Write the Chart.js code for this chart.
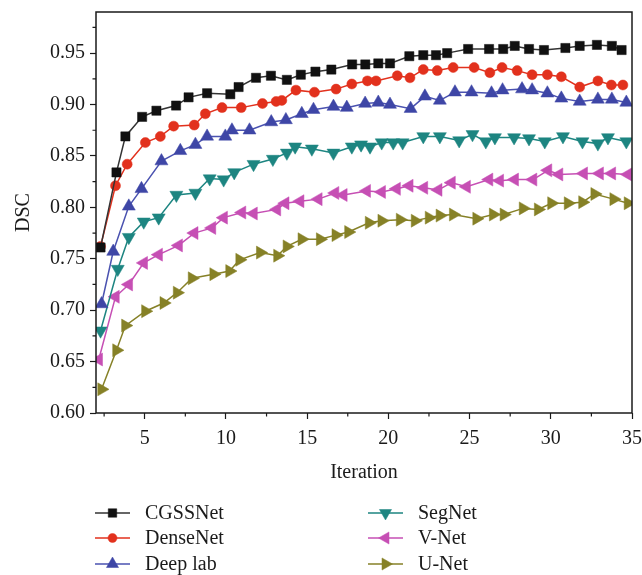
<!DOCTYPE html>
<html>
<head>
<meta charset="utf-8">
<script src="https://cdn.jsdelivr.net/npm/chart.js@4.4.1/dist/chart.umd.min.js"></script>
<style>
  html, body { margin: 0; padding: 0; background: #fff; }
  #chart { display: block; }
</style>
</head>
<body>
<canvas id="chart" width="642" height="575"></canvas>
<script>
// series data (x = iteration, y = DSC)
const seriesNames = ["CGSSNet", "DenseNet", "Deep lab", "SegNet", "V-Net", "U-Net"];

const cgssX = [2.28,3.26,3.81,4.84,5.72,6.93,7.70,8.84,10.27,10.78,11.85,12.77,13.75,14.61,15.51,16.49,17.77,18.58,19.38,20.10,21.29,22.15,22.93,23.62,24.91,26.20,27.07,27.78,28.66,29.58,30.90,31.78,32.84,33.76,34.36];
const cgssY = [0.761,0.834,0.869,0.888,0.894,0.899,0.907,0.911,0.910,0.917,0.926,0.928,0.924,0.929,0.932,0.934,0.939,0.939,0.940,0.940,0.947,0.948,0.948,0.950,0.954,0.954,0.954,0.957,0.954,0.953,0.955,0.957,0.958,0.957,0.953];

const denseX = [2.28,3.20,3.92,5.04,5.96,6.78,8.05,8.73,9.76,10.94,12.25,13.09,13.44,14.31,15.45,16.78,17.75,18.71,19.24,20.55,21.33,22.15,23.01,23.99,25.28,26.25,27.00,27.93,28.85,29.79,30.65,31.78,32.90,33.73,34.44];
const denseY = [0.762,0.821,0.842,0.863,0.869,0.879,0.880,0.891,0.897,0.897,0.901,0.903,0.904,0.914,0.912,0.915,0.920,0.923,0.923,0.928,0.926,0.934,0.933,0.936,0.936,0.931,0.936,0.933,0.929,0.929,0.927,0.917,0.923,0.919,0.919];

const deepX = [2.34,3.06,4.02,4.80,6.03,7.19,8.12,8.84,9.96,10.37,11.45,12.79,13.69,14.67,15.39,16.62,17.44,18.57,19.38,20.10,21.37,22.25,23.17,24.10,25.12,26.35,27.03,28.23,28.85,29.79,30.65,31.78,32.90,33.76,34.65];
const deepY = [0.706,0.757,0.801,0.818,0.845,0.855,0.861,0.869,0.869,0.875,0.875,0.883,0.885,0.891,0.895,0.898,0.897,0.901,0.902,0.900,0.896,0.908,0.904,0.912,0.912,0.911,0.914,0.915,0.914,0.911,0.906,0.903,0.905,0.905,0.902];

const segX = [2.28,3.34,4.02,4.94,5.86,6.95,8.12,9.00,9.86,10.51,11.70,12.89,13.75,14.26,15.29,16.62,17.75,18.32,18.87,19.59,20.30,20.88,22.15,23.17,24.36,25.18,26.00,26.56,27.74,28.66,29.63,30.75,31.95,32.90,33.52,34.65];
const segY = [0.680,0.740,0.771,0.786,0.790,0.812,0.814,0.828,0.827,0.834,0.842,0.847,0.853,0.859,0.857,0.853,0.859,0.861,0.859,0.863,0.863,0.863,0.869,0.869,0.865,0.871,0.864,0.868,0.868,0.867,0.864,0.869,0.864,0.862,0.868,0.864];

const vnetX = [2.17,3.20,4.02,4.94,5.86,7.09,8.05,9.14,9.86,10.99,11.70,13.14,13.65,14.57,15.69,16.72,17.23,18.67,19.59,20.51,21.29,22.19,23.07,23.89,24.82,26.20,26.86,27.78,28.91,29.83,30.51,32.03,33.01,33.76,34.75];
const vnetY = [0.652,0.713,0.725,0.746,0.754,0.763,0.775,0.780,0.790,0.795,0.794,0.798,0.804,0.806,0.808,0.814,0.812,0.816,0.815,0.818,0.821,0.819,0.817,0.824,0.820,0.827,0.826,0.827,0.827,0.836,0.832,0.833,0.833,0.833,0.832];

const unetX = [2.34,3.26,3.81,5.04,6.17,6.99,7.91,9.24,10.22,10.84,12.11,13.17,13.75,14.67,15.80,16.76,17.54,18.81,19.59,20.72,21.64,22.50,23.17,23.99,25.43,26.45,27.11,28.29,29.22,30.04,31.06,31.95,32.70,33.87,34.75];
const unetY = [0.623,0.661,0.685,0.699,0.707,0.717,0.731,0.735,0.738,0.749,0.756,0.753,0.762,0.769,0.769,0.773,0.776,0.785,0.787,0.788,0.787,0.790,0.792,0.793,0.789,0.793,0.793,0.799,0.798,0.804,0.804,0.805,0.813,0.808,0.804];

// axis ticks
const xMajorTicks = [5, 10, 15, 20, 25, 30, 35];
const xMinorTicks = [2.5, 7.5, 12.5, 17.5, 22.5, 27.5, 32.5];
const yMajorTicks = [0.60, 0.65, 0.70, 0.75, 0.80, 0.85, 0.90, 0.95];
const yMinorTicks = [0.625, 0.675, 0.725, 0.775, 0.825, 0.875, 0.925, 0.975];

const FONT = '"Liberation Serif", "Times New Roman", serif';
const AXIS_COLOR = "#1a1a1a";

const styles = [
  { color: "#111111", line: "#333333", pointStyle: "rect", radius: 6.5, rotation: 0 },
  { color: "#e2311d", line: "#e2311d", pointStyle: "circle", radius: 5, rotation: 0 },
  { color: "#3e46a6", line: "#4a52b0", pointStyle: "triangle", radius: 7.5, rotation: 0 },
  { color: "#1d8581", line: "#1d8581", pointStyle: "triangle", radius: 7.5, rotation: 180 },
  { color: "#c64fb4", line: "#c64fb4", pointStyle: "triangle", radius: 7.5, rotation: -90 },
  { color: "#868127", line: "#868127", pointStyle: "triangle", radius: 7.5, rotation: 90 },
];

const xsList = [cgssX, denseX, deepX, segX, vnetX, unetX];
const ysList = [cgssY, denseY, deepY, segY, vnetY, unetY];

const datasets = seriesNames.map((name, i) => ({
  label: name,
  data: xsList[i].map((x, j) => ({ x: x, y: ysList[i][j] })),
  borderColor: styles[i].line,
  backgroundColor: styles[i].color,
  borderWidth: 1.5,
  pointStyle: styles[i].pointStyle,
  pointRadius: styles[i].radius,
  pointRotation: styles[i].rotation,
  pointBackgroundColor: styles[i].color,
  pointBorderColor: styles[i].color,
  pointBorderWidth: 0.5,
  tension: 0,
}));

// frame, minor ticks and the two-column legend
const extras = {
  id: "extras",
  afterDraw(chart) {
    const ctx = chart.ctx;
    const area = chart.chartArea;
    const xs = chart.scales.x;
    const ys = chart.scales.y;
    ctx.save();
    ctx.strokeStyle = AXIS_COLOR;
    ctx.lineWidth = 1.5;
    ctx.strokeRect(area.left, area.top, area.right - area.left, area.bottom - area.top);

    ctx.lineWidth = 1.2;
    ctx.beginPath();
    xMinorTicks.forEach(v => {
      const px = xs.getPixelForValue(v);
      ctx.moveTo(px, area.bottom);
      ctx.lineTo(px, area.bottom + 3.5);
    });
    yMinorTicks.forEach(v => {
      const py = ys.getPixelForValue(v);
      ctx.moveTo(area.left, py);
      ctx.lineTo(area.left - 3.5, py);
    });
    ctx.stroke();

    // legend
    const rowsY = [513, 538, 564];
    const cols = [{ x0: 95, x1: 130, tx: 145 }, { x0: 368, x1: 403, tx: 418 }];
    ctx.font = "20px " + FONT;
    ctx.textBaseline = "middle";
    ctx.textAlign = "left";
    seriesNames.forEach((name, i) => {
      const col = cols[Math.floor(i / 3)];
      const y = rowsY[i % 3];
      const st = styles[i];
      ctx.strokeStyle = st.line;
      ctx.lineWidth = 1.5;
      ctx.beginPath();
      ctx.moveTo(col.x0, y);
      ctx.lineTo(col.x1, y);
      ctx.stroke();
      ctx.fillStyle = st.color;
      ctx.strokeStyle = st.color;
      ctx.lineWidth = 0.5;
      Chart.helpers.drawPoint(ctx, {
        pointStyle: st.pointStyle,
        radius: st.radius - 0.5,
        rotation: st.rotation,
        borderWidth: 0.5,
      }, (col.x0 + col.x1) / 2, y);
      ctx.fillStyle = "#1a1a1a";
      ctx.fillText(name, col.tx, y + 1);
    });
    ctx.restore();
  },
};

const ctx = document.getElementById("chart").getContext("2d");
const chart = new Chart(ctx, {
  type: "line",
  data: { datasets: datasets },
  options: {
    responsive: false,
    animation: false,
    layout: { padding: { left: 12, top: 12, right: 10, bottom: 90 } },
    plugins: {
      legend: { display: false },
      tooltip: { enabled: false },
    },
    scales: {
      x: {
        type: "linear",
        min: 2,
        max: 35,
        afterBuildTicks: (axis) => { axis.ticks = xMajorTicks.map(v => ({ value: v })); },
        afterFit: (axis) => {
          axis.height = 72;
          axis.paddingLeft = 0;
          axis.paddingRight = 0;
        },
        grid: { drawOnChartArea: false, drawTicks: true, tickLength: 6, tickColor: AXIS_COLOR, tickWidth: 1.2 },
        border: { display: false },
        ticks: {
          color: "#1a1a1a",
          font: { family: FONT, size: 20 },
          padding: 8,
          maxRotation: 0,
          autoSkip: false,
          callback: (v) => String(v),
        },
        title: {
          display: true,
          text: "Iteration",
          color: "#1a1a1a",
          font: { family: FONT, size: 20 },
          padding: { top: 0, bottom: 0 },
        },
      },
      y: {
        min: 0.6,
        max: 0.99,
        afterBuildTicks: (axis) => { axis.ticks = yMajorTicks.map(v => ({ value: v })); },
        afterFit: (axis) => {
          axis.width = 84;
          axis.paddingTop = 0;
          axis.paddingBottom = 0;
        },
        grid: { drawOnChartArea: false, drawTicks: true, tickLength: 6, tickColor: AXIS_COLOR, tickWidth: 1.2 },
        border: { display: false },
        ticks: {
          color: "#1a1a1a",
          font: { family: FONT, size: 20 },
          padding: 5,
          autoSkip: false,
          callback: (v) => v.toFixed(2),
        },
        title: {
          display: true,
          text: "DSC",
          color: "#1a1a1a",
          font: { family: FONT, size: 20 },
          padding: { top: 0, bottom: 0 },
        },
      },
    },
  },
  plugins: [extras],
});
</script>
</body>
</html>
